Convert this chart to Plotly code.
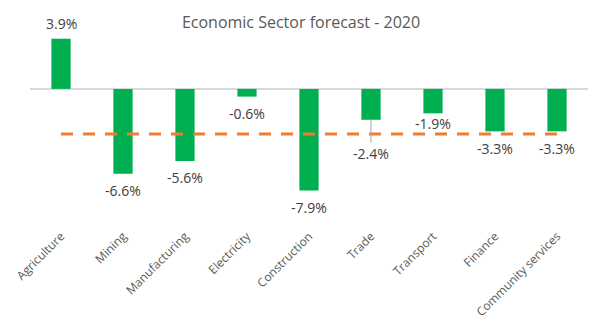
import plotly.graph_objects as go

categories = ["Agriculture", "Mining", "Manufacturing", "Electricity", "Construction",
              "Trade", "Transport", "Finance", "Community services"]
values = [3.9, -6.6, -5.6, -0.6, -7.9, -2.4, -1.9, -3.3, -3.3]
reference_level = [-3.5] * len(categories)
title_text = "Economic Sector forecast - 2020"

# label style offsets (pixels) - style, not data
label_shift = {"Transport": -10}
leader_label = {"Trade": 34}

FONT = "Open Sans"
fig = go.Figure()
fig.add_trace(go.Bar(x=categories, y=values, marker=dict(color="#00B050", line=dict(width=0)),
                     width=0.31, hoverinfo="skip"))
fig.add_trace(go.Scatter(x=categories, y=reference_level, mode="lines",
                         line=dict(color="#ED7D31", width=3, dash="12px,10px"),
                         hoverinfo="skip"))

annotations = []
for c, v in zip(categories, values):
    txt = f"{v:.1f}%"
    if c in leader_label:
        annotations.append(dict(x=c, y=v, text=txt, showarrow=True, arrowhead=0,
                                arrowwidth=1, arrowcolor="#A6A6A6", ax=0, ay=leader_label[c],
                                standoff=0,
                                font=dict(family=FONT, size=14, color="#404040")))
    else:
        shift = label_shift.get(c, 15 if v > 0 else -17)
        annotations.append(dict(x=c, y=v, text=txt, showarrow=False, yshift=shift,
                                font=dict(family=FONT, size=14, color="#404040")))

fig.update_layout(
    width=602, height=322,
    margin=dict(l=30, r=14, t=31, b=98),
    paper_bgcolor="white", plot_bgcolor="white",
    showlegend=False,
    title=dict(text=title_text, x=0.5, xanchor="center", y=0.93, yanchor="middle",
               font=dict(family=FONT, size=16, color="#595959")),
    xaxis=dict(tickangle=-45, tickfont=dict(family=FONT, size=12, color="#595959"),
               showgrid=False, showline=False, ticks="", automargin=False,
               ticklabelstandoff=2),
    yaxis=dict(range=[-10.5, 4.5], showticklabels=False, showgrid=False, automargin=False,
               zeroline=True, zerolinecolor="#D9D9D9", zerolinewidth=1.5),
    annotations=annotations,
    bargap=0.69,
)
fig.write_html("out.html")
